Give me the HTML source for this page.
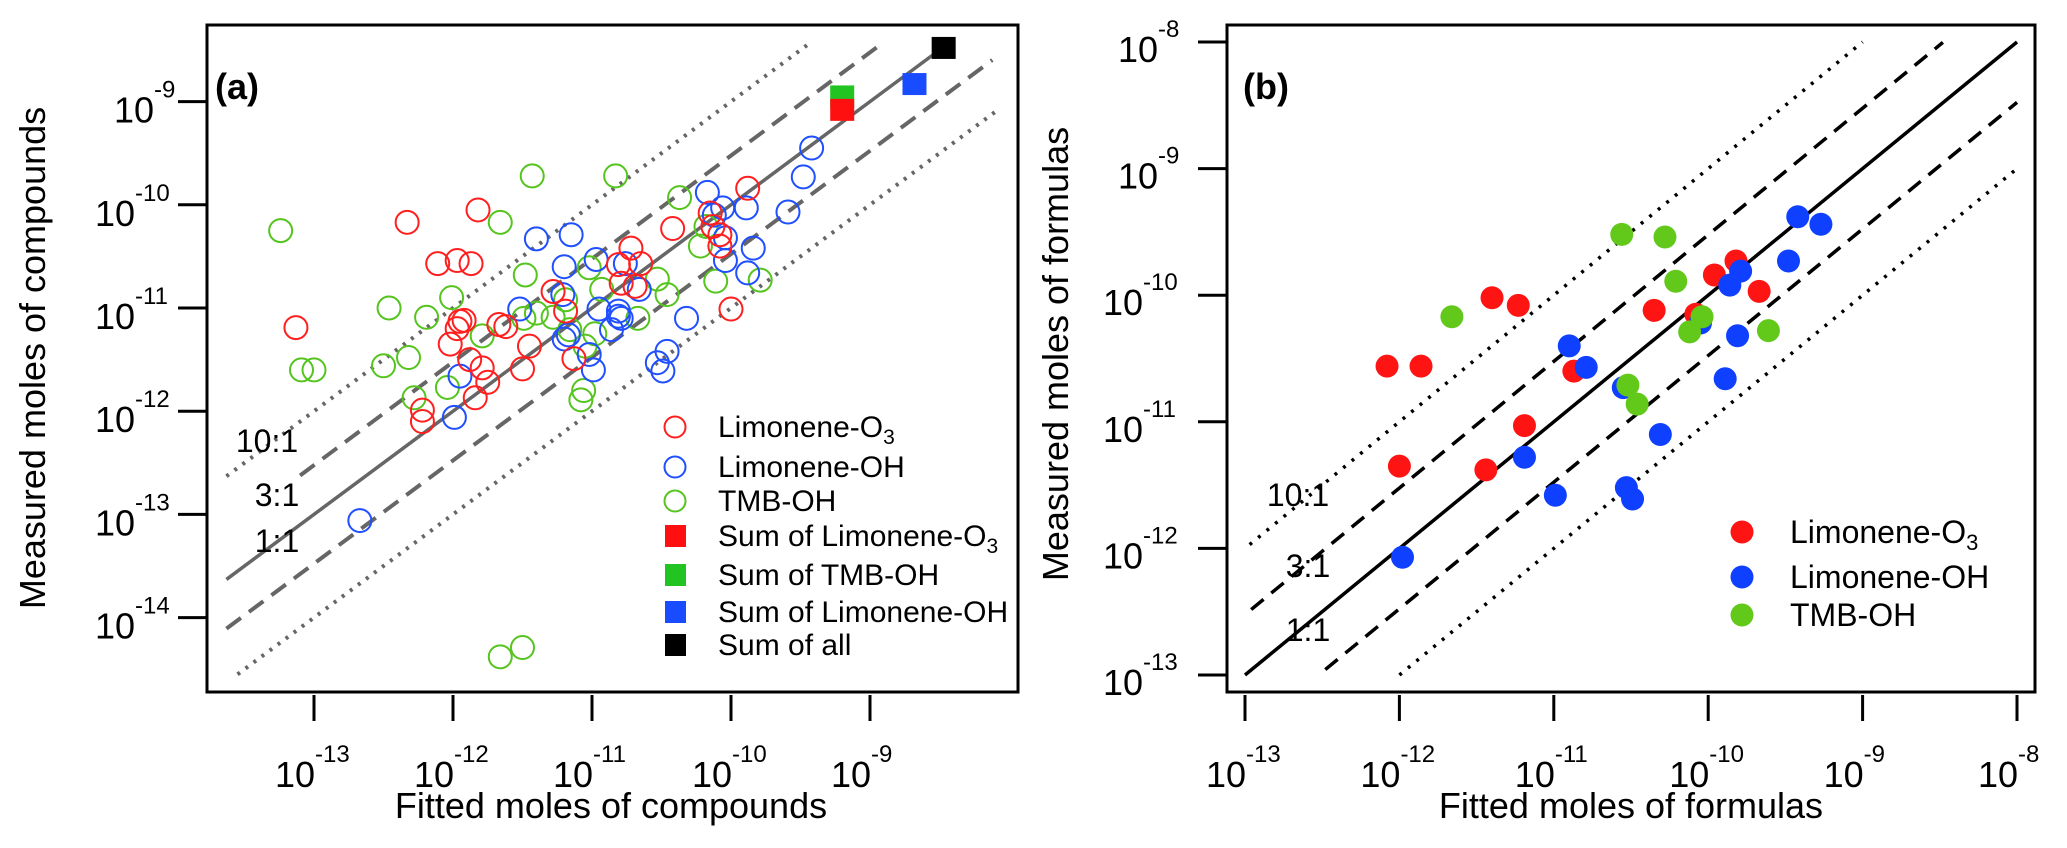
<!DOCTYPE html>
<html><head><meta charset="utf-8"><style>
html,body{margin:0;padding:0;background:#fff;}
svg{display:block;font-family:"Liberation Sans",Arial,sans-serif;}
</style></head><body>
<svg id="chart" width="2067" height="848" viewBox="0 0 2067 848" xmlns="http://www.w3.org/2000/svg"></svg>
<script>
// ---------- Panel (a) data (log10 values) ----------
const aRedX=[-12.33,-11.82,-13.13,-12.11,-11.97,-11.87,-11.95,-11.97,-12.02,-11.92,-11.88,-11.79,-11.75,-11.84,-12.22,-12.22,-11.67,-11.62,-11.45,-11.50,-11.28,-11.19,-11.13,-10.81,-10.72,-10.65,-10.79,-10.69,-10.42,-10.15,-10.13,-10.08,-10.08,-9.88,-10.00];
const aRedY=[-10.17,-10.05,-11.19,-10.57,-10.54,-10.57,-11.13,-11.20,-11.35,-11.12,-11.50,-11.58,-11.72,-11.87,-11.99,-12.10,-11.16,-11.18,-11.37,-11.59,-10.84,-11.03,-11.49,-10.58,-10.42,-10.57,-10.76,-10.79,-10.23,-10.08,-10.21,-10.40,-10.29,-9.84,-11.01];
const aBlueX=[-12.67,-11.99,-11.95,-11.52,-11.40,-11.15,-11.20,-10.97,-11.21,-11.17,-11.20,-11.02,-10.99,-10.95,-10.81,-10.79,-10.86,-10.81,-10.76,-10.66,-10.32,-10.46,-10.53,-10.49,-10.17,-10.12,-10.06,-10.04,-10.04,-9.89,-9.88,-9.84,-9.59,-9.48,-9.42];
const aBlueY=[-13.06,-12.06,-11.66,-11.01,-10.33,-10.29,-10.60,-10.53,-10.87,-11.26,-11.30,-11.45,-11.60,-11.01,-11.03,-11.10,-11.21,-11.08,-10.57,-10.82,-11.10,-11.42,-11.53,-11.61,-9.88,-10.10,-10.03,-10.32,-10.54,-10.03,-10.66,-10.42,-10.07,-9.73,-9.45];
const aGreenX=[-13.24,-13.09,-13.00,-12.46,-12.50,-12.32,-12.28,-12.19,-12.01,-12.04,-11.79,-11.66,-11.48,-11.43,-11.49,-11.40,-11.28,-11.19,-11.02,-11.16,-10.93,-11.05,-10.98,-11.08,-11.06,-10.83,-10.67,-10.53,-10.46,-10.37,-10.22,-10.18,-10.11,-9.79,-11.66,-11.50];
const aGreenY=[-10.25,-11.60,-11.60,-11.00,-11.56,-11.48,-11.87,-11.09,-10.90,-11.77,-11.27,-10.17,-10.68,-9.72,-11.10,-11.05,-11.09,-10.92,-10.61,-11.21,-10.82,-11.37,-11.25,-11.89,-11.80,-9.72,-11.10,-10.72,-10.87,-9.93,-10.40,-10.21,-10.74,-10.73,-14.38,-14.29];
const aSumNames=["sum-tmb-oh","sum-limonene-o3","sum-limonene-oh","sum-all"];
const aSumX=[-9.20,-9.20,-8.68,-8.47];
const aSumY=[-8.95,-9.08,-8.83,-8.48];
const aSumColors=["#22c422","#ff1010","#1a4cff","#000000"];
const aTicksX=[-13,-12,-11,-10,-9];
const aTicksY=[-9,-10,-11,-12,-13,-14];
// ---------- Panel (b) data (log10 values) ----------
const bRedX=[-12.08,-11.86,-11.40,-11.23,-12.00,-11.44,-11.19,-10.87,-10.35,-10.08,-9.96,-9.82,-9.67];
const bRedY=[-10.56,-10.56,-10.02,-10.08,-11.35,-11.38,-11.03,-10.60,-10.12,-10.15,-9.84,-9.73,-9.97];
const bBlueX=[-11.98,-11.19,-10.99,-10.90,-10.79,-10.55,-10.53,-10.49,-10.31,-10.05,-9.89,-9.86,-9.79,-9.81,-9.48,-9.42,-9.27];
const bBlueY=[-12.07,-11.28,-11.58,-10.40,-10.57,-10.73,-11.52,-11.61,-11.10,-10.22,-10.66,-9.92,-9.81,-10.32,-9.73,-9.38,-9.44];
const bGreenX=[-11.66,-10.56,-10.28,-10.21,-10.52,-10.46,-10.12,-10.04,-9.61];
const bGreenY=[-10.17,-9.52,-9.54,-9.89,-10.71,-10.86,-10.29,-10.17,-10.28];
const bTicksX=[-13,-12,-11,-10,-9,-8];
const bTicksY=[-8,-9,-10,-11,-12,-13];

const NS="http://www.w3.org/2000/svg";
const svg=document.getElementById('chart');
function mk(tag,attrs,parent){const e=document.createElementNS(NS,tag);for(const k in attrs)e.setAttribute(k,attrs[k]);(parent||svg).appendChild(e);return e;}

const xA=v=>453+(v+12)*139;
const yA=v=>101.6-(v+9)*103.2;
const xB=v=>1245+(v+13)*154.4;
const yB=v=>42-(v+8)*126.6;

function powLabel(parent,x,y,exp){
  const t=mk('text',{x:x,y:y,'font-size':36,fill:'#000'},parent);
  
  
  const a=document.createElementNS(NS,'tspan');a.textContent='10';t.appendChild(a);
  const b=document.createElementNS(NS,'tspan');b.setAttribute('dy',-25);b.setAttribute('font-size',24);b.textContent='-'+Math.abs(exp);t.appendChild(b);
  return t;
}

// ================= Panel A =================
const gA=mk('g',{});


const fa=mk('rect',{x:207,y:25,width:811,height:667,fill:'none',stroke:'#000','stroke-width':3},gA);


aTicksX.forEach(v=>{
  const l=mk('line',{x1:xA(v),x2:xA(v),y1:695,y2:721,stroke:'#000','stroke-width':3},gA);
  
  
  powLabel(gA,xA(v)-39,787,v);
});
aTicksY.forEach(v=>{
  const l=mk('line',{x1:178,x2:207,y1:yA(v),y2:yA(v),stroke:'#000','stroke-width':3},gA);
  
  
  const x0=v<=-10?95:114;
  powLabel(gA,x0,yA(v)+21,v);
});
function refA(off,x0,x1,dash,name,w){
  const l=mk('line',{x1:xA(x0),y1:yA(x0+off),x2:xA(x1),y2:yA(x1+off),stroke:'#666','stroke-width':w,'stroke-dasharray':dash},gA);
  
  
}
refA(1,-13.63,-9.43,'3 7','ref-line-10-1',4);
refA(0.477,-13.1,-8.91,'18 10','ref-line-3-1',4);
refA(0,-13.63,-8.42,'','ref-line-1-1',3.5);
refA(-0.477,-13.63,-8.12,'18 10','ref-line-1-3',4);
refA(-1,-13.55,-8.09,'3 7','ref-line-1-10',4);
[['10:1',267,452],['3:1',277,506],['1:1',277,552]].forEach(d=>{
  const t=mk('text',{x:d[1],y:d[2],'font-size':32,'text-anchor':'middle'},gA);
  t.textContent=d[0];
  
  
});
function openPts(X,Y,col,name){
  X.forEach((v,i)=>{
    const c=mk('circle',{cx:xA(v),cy:yA(Y[i]),r:11.5,fill:'none',stroke:col,'stroke-width':2},gA);
    
    
  });
}
openPts(aGreenX,aGreenY,'#55c41e','point-tmb-oh');
openPts(aBlueX,aBlueY,'#1f4fff','point-limonene-oh');
openPts(aRedX,aRedY,'#ff1f1f','point-limonene-o3');
aSumX.forEach((v,i)=>{
  const r=mk('rect',{x:xA(v)-12,y:yA(aSumY[i])-11,width:24,height:22,fill:aSumColors[i]},gA);
  
  
});
const la=mk('text',{x:215,y:99,'font-size':36,'font-weight':'bold'},gA);
la.textContent='(a)';


const legA=[['o','#ff1f1f','Limonene-O','3'],['o','#1f4fff','Limonene-OH',''],['o','#55c41e','TMB-OH',''],['s','#ff1010','Sum of Limonene-O','3'],['s','#22c422','Sum of TMB-OH',''],['s','#1a4cff','Sum of Limonene-OH',''],['s','#000','Sum of all','']];
const legRowsA=[427,467,501,536,575,612,645];
const gLA=mk('g',{},gA);


legA.forEach((d,i)=>{
  const y=legRowsA[i];
  let m;
  if(d[0]==='o') m=mk('circle',{cx:675,cy:y,r:10.5,fill:'none',stroke:d[1],'stroke-width':2},gLA);
  else m=mk('rect',{x:665,y:y-11,width:21,height:22,fill:d[1]},gLA);
  
  
  const t=mk('text',{x:718,y:y+10,'font-size':30},gLA);
  
  
  const s1=document.createElementNS(NS,'tspan');s1.textContent=d[2];t.appendChild(s1);
  if(d[3]){const s2=document.createElementNS(NS,'tspan');s2.setAttribute('font-size',21);s2.setAttribute('dy',7);s2.textContent=d[3];t.appendChild(s2);}
});
const xta=mk('text',{x:611,y:818,'font-size':36,'text-anchor':'middle'},gA);
xta.textContent='Fitted moles of compounds';


const yta=mk('text',{x:0,y:0,'font-size':36,'text-anchor':'middle',transform:'translate(45,358) rotate(-90)'},gA);
yta.textContent='Measured moles of compounds';



// ================= Panel B =================
const gB=mk('g',{});


const fb=mk('rect',{x:1227,y:25,width:808,height:667,fill:'none',stroke:'#000','stroke-width':3},gB);


bTicksX.forEach(v=>{
  const l=mk('line',{x1:xB(v),x2:xB(v),y1:695,y2:721,stroke:'#000','stroke-width':3},gB);
  
  
  powLabel(gB,xB(v)-39,787,v);
});
bTicksY.forEach(v=>{
  const l=mk('line',{x1:1198,x2:1227,y1:yB(v),y2:yB(v),stroke:'#000','stroke-width':3},gB);
  
  
  const x0=v<=-10?1103:1118;
  powLabel(gB,x0,yB(v)+20,v);
});
function refB(off,x0,x1,dash,name){
  const l=mk('line',{x1:xB(x0),y1:yB(x0+off),x2:xB(x1),y2:yB(x1+off),stroke:'#000','stroke-width':3.5,'stroke-dasharray':dash},gB);
  
  
}
refB(1,-12.97,-9.0,'3 8','ref-line-10-1');
refB(0.477,-12.96,-8.48,'16 10','ref-line-3-1');
refB(0,-13,-8,'','ref-line-1-1');
refB(-0.477,-12.48,-8,'16 10','ref-line-1-3');
refB(-1,-12.0,-8,'3 8','ref-line-1-10');
[['10:1',1298,506],['3:1',1308,577],['1:1',1308,641]].forEach(d=>{
  const t=mk('text',{x:d[1],y:d[2],'font-size':32,'text-anchor':'middle'},gB);
  t.textContent=d[0];
  
  
});
function fillPts(X,Y,col,name){
  X.forEach((v,i)=>{
    const c=mk('circle',{cx:xB(v),cy:yB(Y[i]),r:11.5,fill:col},gB);
    
    
  });
}
fillPts(bRedX,bRedY,'#ff1414','point-limonene-o3');
fillPts(bBlueX,bBlueY,'#0f3fff','point-limonene-oh');
fillPts(bGreenX,bGreenY,'#62c81a','point-tmb-oh');
const lb=mk('text',{x:1243,y:99,'font-size':36,'font-weight':'bold'},gB);
lb.textContent='(b)';


const legB=[['#ff1414','Limonene-O','3'],['#0f3fff','Limonene-OH',''],['#62c81a','TMB-OH','']];
const legRowsB=[532,577,615];
const gLB=mk('g',{},gB);


legB.forEach((d,i)=>{
  const y=legRowsB[i];
  const m=mk('circle',{cx:1742,cy:y,r:11.5,fill:d[0]},gLB);
  
  
  const t=mk('text',{x:1790,y:y+11,'font-size':32},gLB);
  
  
  const s1=document.createElementNS(NS,'tspan');s1.textContent=d[1];t.appendChild(s1);
  if(d[2]){const s2=document.createElementNS(NS,'tspan');s2.setAttribute('font-size',22);s2.setAttribute('dy',7);s2.textContent=d[2];t.appendChild(s2);}
});
const xtb=mk('text',{x:1631,y:818,'font-size':36,'text-anchor':'middle'},gB);
xtb.textContent='Fitted moles of formulas';


const ytb=mk('text',{x:0,y:0,'font-size':36,'text-anchor':'middle',transform:'translate(1068,354) rotate(-90)'},gB);
ytb.textContent='Measured moles of formulas';


</script>
</body></html>
